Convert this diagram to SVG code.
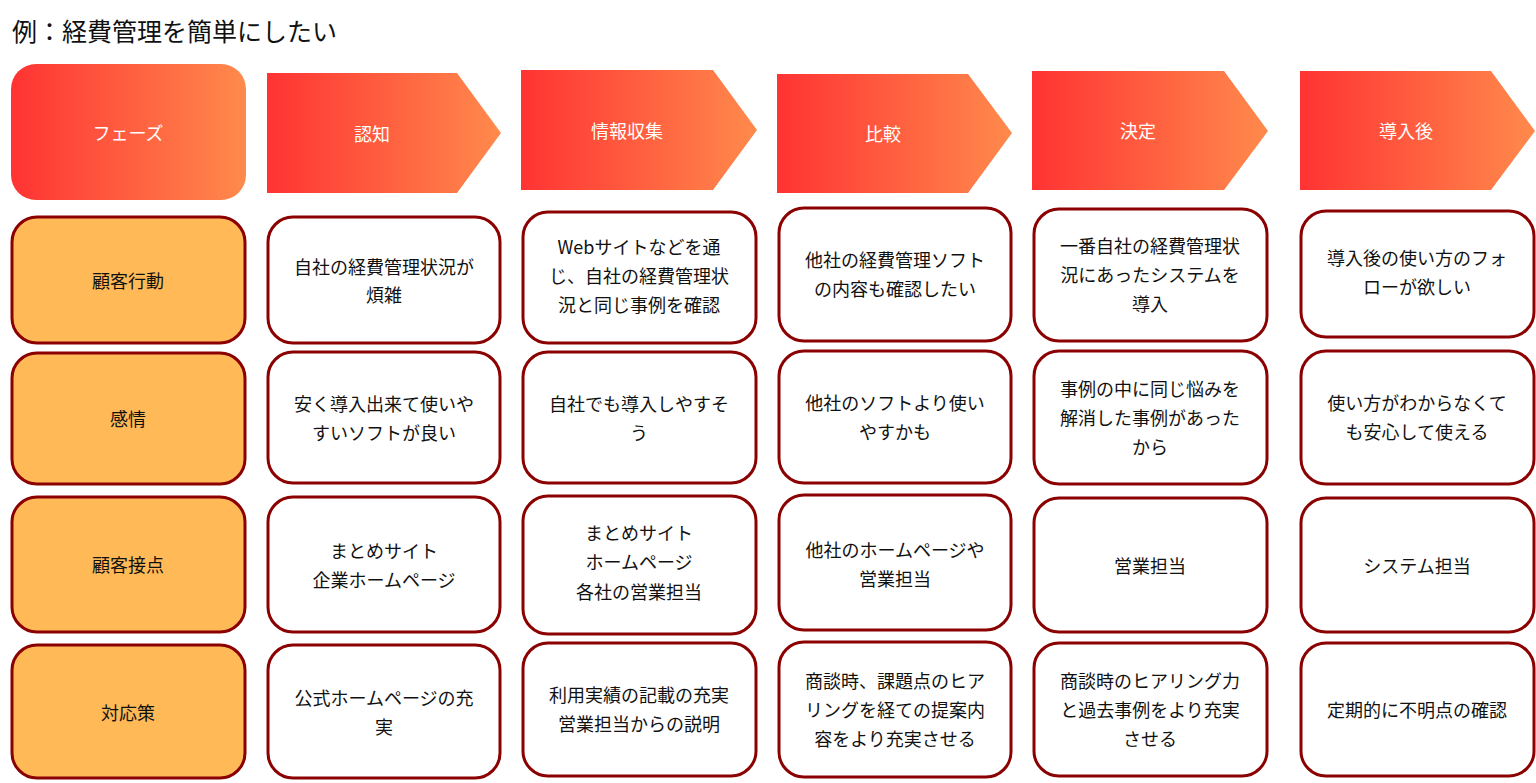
<svg xmlns="http://www.w3.org/2000/svg" width="1536" height="783" viewBox="0 0 1536 783">
<style>
text{font-family:"Noto Sans CJK JP","Noto Sans",sans-serif;text-anchor:middle;dominant-baseline:central}
.t{font-size:18px;fill:#111}
.h{font-size:18px;fill:#fff}
.c{fill:#fff;stroke:#8b0000;stroke-width:3}
.l{fill:#ffb957;stroke:#8b0000;stroke-width:3}
</style>
<defs>
<linearGradient id="g" x1="0" y1="0" x2="1" y2="0"><stop offset="0" stop-color="#ff3333"/><stop offset="1" stop-color="#ff8a4c"/></linearGradient>
</defs>
<text x="12" y="30" style="font-size:25px;text-anchor:start;fill:#111">例：経費管理を簡単にしたい</text>
<g id="header">
<rect x="11" y="64" width="235" height="136" rx="25" fill="url(#g)"/><text class="h" x="128" y="132">フェーズ</text>
<path d="M267 73H457L501 133L457 193H267Z" fill="url(#g)"/><text class="h" x="372" y="133">認知</text>
<path d="M521 70H713L757 130L713 190H521Z" fill="url(#g)"/><text class="h" x="627" y="130">情報収集</text>
<path d="M777 74H968L1012 133L968 193H777Z" fill="url(#g)"/><text class="h" x="883" y="133">比較</text>
<path d="M1032 71H1224L1268 131L1224 190H1032Z" fill="url(#g)"/><text class="h" x="1138" y="130">決定</text>
<path d="M1300 71H1491L1535 131L1491 190H1300Z" fill="url(#g)"/><text class="h" x="1406" y="130">導入後</text>
</g>
<g id="labels">
<rect class="l" x="12" y="217" width="233" height="126" rx="25"/><text class="t" x="128" y="280">顧客行動</text>
<rect class="l" x="12" y="353" width="233" height="131" rx="25"/><text class="t" x="128" y="418">感情</text>
<rect class="l" x="12" y="497" width="233" height="135" rx="25"/><text class="t" x="128" y="564">顧客接点</text>
<rect class="l" x="12" y="645" width="233" height="133" rx="25"/><text class="t" x="128" y="712">対応策</text>
</g>
<g id="row1">
<rect class="c" x="268" y="217" width="232" height="126" rx="25"/><text class="t" x="384" y="266">自社の経費管理状況が</text><text class="t" x="384" y="294">煩雑</text>
<rect class="c" x="523" y="212" width="233" height="131" rx="25"/><text class="t" x="639" y="246">Webサイトなどを通</text><text class="t" x="639" y="275">じ、自社の経費管理状</text><text class="t" x="639" y="304">況と同じ事例を確認</text>
<rect class="c" x="779" y="208" width="232" height="133" rx="25"/><text class="t" x="895" y="259">他社の経費管理ソフト</text><text class="t" x="895" y="288">の内容も確認したい</text>
<rect class="c" x="1034" y="209" width="233" height="132" rx="25"/><text class="t" x="1150" y="245">一番自社の経費管理状</text><text class="t" x="1150" y="274">況にあったシステムを</text><text class="t" x="1150" y="303">導入</text>
<rect class="c" x="1301" y="211" width="233" height="126" rx="25"/><text class="t" x="1417" y="257">導入後の使い方のフォ</text><text class="t" x="1417" y="286">ローが欲しい</text>
</g>
<g id="row2">
<rect class="c" x="268" y="352" width="232" height="131" rx="25"/><text class="t" x="384" y="403">安く導入出来て使いや</text><text class="t" x="384" y="432">すいソフトが良い</text>
<rect class="c" x="523" y="352" width="233" height="131" rx="25"/><text class="t" x="639" y="403">自社でも導入しやすそ</text><text class="t" x="639" y="432">う</text>
<rect class="c" x="779" y="351" width="232" height="132" rx="25"/><text class="t" x="895" y="402">他社のソフトより使い</text><text class="t" x="895" y="431">やすかも</text>
<rect class="c" x="1034" y="351" width="233" height="133" rx="25"/><text class="t" x="1150" y="388">事例の中に同じ悩みを</text><text class="t" x="1150" y="417">解消した事例があった</text><text class="t" x="1150" y="446">から</text>
<rect class="c" x="1301" y="351" width="233" height="133" rx="25"/><text class="t" x="1417" y="402">使い方がわからなくて</text><text class="t" x="1417" y="431">も安心して使える</text>
</g>
<g id="row3">
<rect class="c" x="268" y="497" width="232" height="135" rx="25"/><text class="t" x="384" y="550">まとめサイト</text><text class="t" x="384" y="579">企業ホームページ</text>
<rect class="c" x="523" y="496" width="233" height="138" rx="25"/><text class="t" x="639" y="532">まとめサイト</text><text class="t" x="639" y="561">ホームページ</text><text class="t" x="639" y="591">各社の営業担当</text>
<rect class="c" x="779" y="495" width="232" height="135" rx="25"/><text class="t" x="895" y="549">他社のホームページや</text><text class="t" x="895" y="578">営業担当</text>
<rect class="c" x="1034" y="498" width="233" height="134" rx="25"/><text class="t" x="1150" y="565">営業担当</text>
<rect class="c" x="1301" y="498" width="233" height="134" rx="25"/><text class="t" x="1417" y="565">システム担当</text>
</g>
<g id="row4">
<rect class="c" x="268" y="645" width="232" height="133" rx="25"/><text class="t" x="384" y="697">公式ホームページの充</text><text class="t" x="384" y="726">実</text>
<rect class="c" x="523" y="643" width="233" height="133" rx="25"/><text class="t" x="639" y="694">利用実績の記載の充実</text><text class="t" x="639" y="723">営業担当からの説明</text>
<rect class="c" x="779" y="642" width="232" height="135" rx="25"/><text class="t" x="895" y="680">商談時、課題点のヒア</text><text class="t" x="895" y="709">リングを経ての提案内</text><text class="t" x="895" y="738">容をより充実させる</text>
<rect class="c" x="1034" y="643" width="233" height="133" rx="25"/><text class="t" x="1150" y="680">商談時のヒアリング力</text><text class="t" x="1150" y="709">と過去事例をより充実</text><text class="t" x="1150" y="738">させる</text>
<rect class="c" x="1301" y="643" width="233" height="133" rx="25"/><text class="t" x="1417" y="709">定期的に不明点の確認</text>
</g>
</svg>
